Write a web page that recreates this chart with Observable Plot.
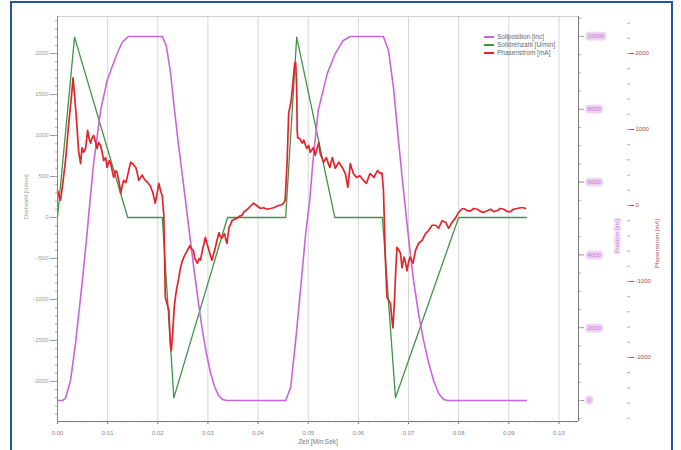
<!DOCTYPE html>
<html><head><meta charset="utf-8">
<script src="https://cdn.jsdelivr.net/npm/d3@7"></script>
<script src="https://cdn.jsdelivr.net/npm/@observablehq/plot@0.6"></script>
<style>
html,body{margin:0;padding:0;background:#fff;}
#wrap{position:relative;width:681px;height:450px;overflow:hidden;background:#fff;font-family:"Liberation Sans",Arial,sans-serif;}
#chart{position:absolute;left:0;top:0;}
#border{position:absolute;left:10px;top:1px;width:663px;height:480px;border:2px solid #2456a8;box-sizing:border-box;pointer-events:none;}
#legend{position:absolute;left:484px;top:33px;font-size:6.5px;color:#666;line-height:8px;}
#legend .sw{display:inline-block;width:10px;height:1.6px;vertical-align:middle;margin-right:3px;}
</style>
</head><body>
<div id="wrap"><div id="chart"></div><div id="legend"></div><div id="border"></div></div>
<script>
// ---- data (time in x units, values in each axis' units) ----
const seriesNames = ["Sollposition [inc]", "Solldrehzahl [U/min]", "Phasenstrom [mA]"];
const seriesColors = ["#c965d9", "#3f9545", "#e4232b"];

// green: speed setpoint, left axis
const speed = [[0,0],[0.0034,2200],[0.0140,0],[0.0209,0],[0.0232,-2200],[0.0339,0],[0.0455,0],
  [0.0477,2200],[0.0553,0],[0.0648,0],[0.0674,-2200],[0.0800,0],[0.0935,0]];

// purple: position, middle right axis
const position = [[0,0],[0.0010,0],[0.0016,60],[0.0026,550],[0.0036,1570],[0.0049,3210],[0.0059,4590],
  [0.0064,5360],[0.0072,6510],[0.0086,7970],[0.0099,8790],[0.0116,9430],[0.0129,9840],[0.0142,10000],
  [0.0209,10000],[0.0217,9740],[0.0225,9050],[0.0233,8020],[0.0241,7060],[0.0249,6180],[0.0257,5300],
  [0.0265,4400],[0.0273,3520],[0.0281,2690],[0.0289,1920],[0.0297,1290],[0.0305,770],[0.0313,390],
  [0.0321,140],[0.0329,30],[0.0337,0],[0.0455,0],[0.0465,360],[0.0475,1650],[0.0485,3100],[0.0495,4590],
  [0.0503,5490],[0.0509,6510],[0.0520,7970],[0.0538,8980],[0.0554,9530],[0.0570,9890],[0.0584,10000],
  [0.0650,10000],[0.0660,9620],[0.0670,8600],[0.0680,7140],[0.0690,5770],[0.0700,4480],[0.0710,3300],
  [0.0720,2390],[0.0730,1650],[0.0740,1040],[0.0750,550],[0.0760,190],[0.0770,30],[0.0778,0],[0.0935,0]];

// red: phase current, far right axis
const current = [[0,200],[0.0003,120],[0.0006,70],[0.0010,260],[0.0016,590],[0.0022,1050],[0.0028,1450],
  [0.0031,1680],[0.0034,1450],[0.0038,1120],[0.0042,720],[0.0046,550],[0.0049,760],[0.0052,700],[0.0056,750],
  [0.0060,990],[0.0063,880],[0.0066,820],[0.0069,890],[0.0072,920],[0.0076,830],[0.0079,750],[0.0082,830],
  [0.0086,790],[0.0089,700],[0.0092,590],[0.0096,630],[0.0099,500],[0.0103,590],[0.0106,550],[0.0109,460],
  [0.0112,370],[0.0116,460],[0.0119,430],[0.0123,300],[0.0126,160],[0.0129,260],[0.0132,330],[0.0136,300],
  [0.0139,370],[0.0143,490],[0.0146,570],[0.0150,550],[0.0156,500],[0.0159,430],[0.0162,330],[0.0166,370],
  [0.0169,400],[0.0172,360],[0.0175,330],[0.0180,300],[0.0185,260],[0.0190,170],[0.0195,30],[0.0199,170],
  [0.0202,290],[0.0207,160],[0.0209,130],[0.0212,-130],[0.0215,-1210],[0.0222,-1380],[0.0225,-1820],
  [0.0227,-1910],[0.0230,-1650],[0.0233,-1320],[0.0237,-1120],[0.0242,-950],[0.0245,-830],[0.0248,-750],
  [0.0252,-680],[0.0255,-640],[0.0259,-590],[0.0264,-530],[0.0267,-570],[0.0271,-590],[0.0274,-700],
  [0.0279,-760],[0.0282,-700],[0.0285,-720],[0.0289,-590],[0.0295,-420],[0.0298,-500],[0.0302,-590],
  [0.0305,-660],[0.0308,-720],[0.0312,-620],[0.0315,-550],[0.0318,-460],[0.0322,-360],[0.0325,-410],
  [0.0328,-430],[0.0333,-370],[0.0336,-460],[0.0338,-500],[0.0342,-290],[0.0345,-250],[0.0348,-200],
  [0.0353,-180],[0.0358,-170],[0.0363,-140],[0.0368,-130],[0.0371,-90],[0.0375,-70],[0.0380,-40],
  [0.0385,-10],[0.0391,30],[0.0397,0],[0.0405,-40],[0.0411,-30],[0.0418,-50],[0.0425,-40],[0.0431,-30],
  [0.0437,-10],[0.0441,0],[0.0447,10],[0.0451,30],[0.0454,70],
  [0.0458,590],[0.0461,1210],[0.0466,1380],[0.0470,1650],[0.0473,1870],[0.0475,1880],[0.0477,1550],
  [0.0478,990],[0.0479,890],[0.0483,880],[0.0488,820],[0.0491,860],[0.0497,750],[0.0501,790],[0.0504,700],
  [0.0510,760],[0.0514,660],[0.0521,830],[0.0524,680],[0.0531,570],[0.0536,630],[0.0543,500],[0.0548,630],
  [0.0554,490],[0.0561,570],[0.0568,500],[0.0574,420],[0.0579,240],[0.0584,550],[0.0590,420],[0.0596,370],
  [0.0603,390],[0.0610,330],[0.0616,290],[0.0623,420],[0.0631,370],[0.0638,460],[0.0644,420],[0.0647,430],
  [0.0650,200],[0.0654,-720],[0.0657,-1210],[0.0664,-1290],[0.0667,-1510],[0.0669,-1610],[0.0672,-1250],
  [0.0675,-790],[0.0677,-550],[0.0681,-590],[0.0684,-630],[0.0687,-820],[0.0691,-680],[0.0694,-750],
  [0.0697,-860],[0.0700,-750],[0.0703,-680],[0.0706,-720],[0.0709,-760],[0.0714,-590],[0.0720,-500],
  [0.0727,-460],[0.0734,-370],[0.0740,-330],[0.0747,-260],[0.0754,-260],[0.0760,-300],[0.0767,-200],
  [0.0774,-220],[0.0780,-300],[0.0787,-220],[0.0794,-160],[0.0800,-90],[0.0806,-50],[0.0810,-40],
  [0.0818,-70],[0.0824,-70],[0.0830,-40],[0.0837,-50],[0.0844,-80],[0.0850,-90],[0.0857,-70],[0.0864,-50],
  [0.0870,-80],[0.0877,-70],[0.0883,-40],[0.0890,-50],[0.0897,-80],[0.0903,-80],[0.0909,-50],[0.0917,-40],
  [0.0923,-30],[0.0930,-30],[0.0933,-40]];

// axis ticks
const xTicks = [0, 0.01, 0.02, 0.03, 0.04, 0.05, 0.06, 0.07, 0.08, 0.09, 0.10];
const speedTicks = [-2000, -1500, -1000, -500, 0, 500, 1000, 1500, 2000];
const positionTicks = [0, 2000, 4000, 6000, 8000, 10000];
const currentTicks = [-2000, -1000, 0, 1000, 2000];
const axisTitles = {x: "Zeit [Min:Sek]", speed: "Drehzahl [U/min]", position: "Position [inc]", current: "Phasenstrom [mA]"};

// ---- scales ----
const xDomain = [0, 0.1039];
const yDomain = [-2489, 2452];                 // left axis (speed)
const currentDomain = [-2843, 2487];           // far right axis
const positionDomain = [-577, 10548];          // middle right axis
const curToY = d3.scaleLinear().domain(currentDomain).range(yDomain);
const posToY = d3.scaleLinear().domain(positionDomain).range(yDomain);

const [cPos, cSpeed, cCur] = seriesColors;
const fontFamily = '"Liberation Sans", Arial, sans-serif';

const chart = Plot.plot({
  width: 681, height: 450,
  marginLeft: 57, marginRight: 103, marginTop: 16, marginBottom: 29,
  style: {fontFamily, background: "transparent"},
  x: {domain: xDomain},
  y: {domain: yDomain},
  marks: [
    Plot.gridX(xTicks.slice(1), {stroke: "#d6d6d6", strokeOpacity: 1}),
    Plot.ruleY([yDomain[1]], {stroke: "#d0d0d0"}),
    Plot.line(speed, {x: d => d[0], y: d => d[1], stroke: cSpeed, strokeWidth: 1.3}),
    Plot.line(position, {x: d => d[0], y: d => posToY(d[1]), stroke: cPos, strokeWidth: 1.6}),
    Plot.line(current, {x: d => d[0], y: d => curToY(d[1]), stroke: cCur, strokeWidth: 1.7}),
    Plot.ruleX([xDomain[0]], {stroke: "#888"}),
    Plot.ruleX([xDomain[1]], {stroke: "#777"}),
    Plot.ruleY([yDomain[0]], {stroke: "#777"}),
    // left axis
    Plot.axisY(speedTicks, {anchor: "left", tickSize: 7, tickPadding: 2, fontSize: 6, stroke: "#999", fill: "#999",
      tickFormat: d => String(d), label: null}),
    Plot.axisY(d3.range(-2400, 2401, 100), {anchor: "left", tickSize: 2, stroke: "#aaa", tickFormat: () => "", label: null}),
    Plot.text([axisTitles.speed], {frameAnchor: "left", dx: -31, rotate: -90, fontSize: 6, fill: "#7aa67a"}),
    // bottom axis
    Plot.axisX(xTicks, {anchor: "bottom", tickSize: 3, tickPadding: 6, fontSize: 6, stroke: "#777", fill: "#888",
      tickFormat: d => d.toFixed(2), label: null}),
    Plot.axisX(d3.range(0, 0.1035, 0.002), {anchor: "bottom", tickSize: 1.5, stroke: "#999", tickFormat: () => "", label: null}),
    Plot.text([axisTitles.x], {frameAnchor: "bottom", dy: 22, fontSize: 6.5, fill: "#777"}),
    // position axis (middle right)
    Plot.axisY(positionTicks.map(posToY), {anchor: "right", tickSize: 5, stroke: "#999", tickFormat: () => "", label: null}),
    Plot.axisY(d3.range(-500, 10501, 500).map(posToY), {anchor: "right", tickSize: 2.5, stroke: "#bbb", tickFormat: () => "", label: null}),
    Plot.text(positionTicks, {y: d => posToY(d), text: d => String(d), frameAnchor: "right", dx: 9, textAnchor: "start",
      fontSize: 6, fill: "#c07ad0", stroke: "#efd3f4", strokeWidth: 5}),
    Plot.text([axisTitles.position], {frameAnchor: "right", dx: 39, rotate: -90, fontSize: 6, fill: "#c884d6",
      stroke: "#f4e2f7", strokeWidth: 3}),
    // current axis (far right)
    Plot.axisY(currentTicks.map(curToY), {anchor: "right", dx: 49, tickSize: 6, stroke: "#a05050", tickFormat: () => "", label: null}),
    Plot.axisY(d3.range(-2800, 2401, 200).map(curToY), {anchor: "right", dx: 48, tickSize: 3, stroke: "#c9a0a0", tickFormat: () => "", label: null}),
    Plot.text(currentTicks, {y: d => curToY(d), text: d => String(d), frameAnchor: "right", dx: 57, textAnchor: "start",
      fontSize: 6, fill: "#b04a4a"}),
    Plot.text([axisTitles.current], {frameAnchor: "right", dx: 79, rotate: -90, fontSize: 6, fill: "#b85050"})
  ]
});
document.getElementById("chart").appendChild(chart);

// legend
const legend = document.getElementById("legend");
seriesNames.forEach((name, i) => {
  const row = document.createElement("div");
  const sw = document.createElement("span");
  sw.className = "sw"; sw.style.background = seriesColors[i];
  row.appendChild(sw);
  row.appendChild(document.createTextNode(name));
  legend.appendChild(row);
});
</script>
</body></html>
